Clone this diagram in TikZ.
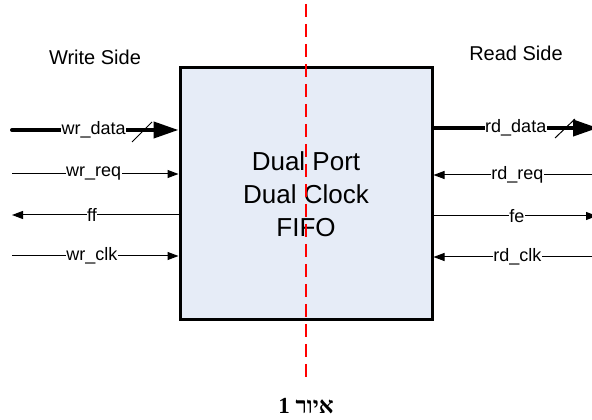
\documentclass[tikz,border=0pt]{standalone}
\usepackage{fontspec}
\setmainfont{Liberation Sans}
\newfontfamily\hebfont[Script=Hebrew]{Liberation Serif}
\TeXXeTstate=1
\usetikzlibrary{arrows.meta}
\definecolor{boxfill}{RGB}{230,236,247}
\tikzset{
  fifobox/.style={draw=black, line width=3pt, fill=boxfill, minimum width=252pt, minimum height=252pt, inner sep=0pt},
  sig/.style={line width=1pt, -{Triangle[length=11pt,width=8pt]}},
  sigback/.style={line width=1pt, {Triangle[length=11pt,width=8pt]}-},
  bus/.style={line width=4pt, line cap=round, -{Triangle[length=25pt,width=16pt]}},
  lab/.style={fill=white, inner sep=0.5pt, font=\fontsize{18}{21}\selectfont},
  side/.style={font=\fontsize{20}{24}\selectfont},
  slashln/.style={line width=1pt},
  divider/.style={draw=red, line width=1.4pt, dash pattern=on 13pt off 7pt}
}
\begin{document}
\begin{tikzpicture}[x=1pt,y=1pt]
\useasboundingbox (0,0) rectangle (592,420);
\node[fifobox] (fifo) at (306,226) {};
\node[align=center, font=\fontsize{26}{33}\selectfont] (title) at (306,226) {Dual Port\\Dual Clock\\FIFO};

\node[side] (ws) at (95,363) {Write Side};
\node[side] (rs) at (516,367) {Read Side};

% left side
\coordinate (wd0) at (12,290);
\coordinate (wq0) at (12,246);
\coordinate (ff0) at (12,205);
\coordinate (wc0) at (12,164);
\draw[bus] (wd0) -- node[lab, pos=0.49] (wdl) {wr\textunderscore data} (fifo.west |- wd0);
\coordinate (ws1) at (132,278);
\coordinate (ws2) at (152,298);
\draw[slashln] (ws1) -- (ws2);
\draw[sig] (wq0) -- node[lab, pos=0.49] (wql) {wr\textunderscore req} (fifo.west |- wq0);
\draw[sigback] (ff0) -- node[lab, pos=0.48] (ffl) {ff} (fifo.west |- ff0);
\draw[sig] (wc0) -- node[lab, pos=0.48] (wcl) {wr\textunderscore clk} (fifo.west |- wc0);

% right side
\coordinate (rd0) at (598,292);
\coordinate (rq0) at (598,245);
\coordinate (fe0) at (597,204);
\coordinate (rc0) at (598,163);
\draw[bus, line cap=butt] (fifo.east |- rd0) -- node[lab, pos=0.5] (rdl) {rd\textunderscore data} (rd0);
\coordinate (rs1) at (555,282);
\coordinate (rs2) at (575,301);
\draw[slashln] (rs1) -- (rs2);
\draw[sigback] (fifo.east |- rq0) -- node[lab, pos=0.51] (rql) {rd\textunderscore req} (rq0);
\draw[sig] (fifo.east |- fe0) -- node[lab, pos=0.51] (fel) {fe} (fe0);
\draw[sigback] (fifo.east |- rc0) -- node[lab, pos=0.51] (rcl) {rd\textunderscore clk} (rc0);

% divider
\coordinate (dv1) at (306,416);
\coordinate (dv2) at (306,40);
\draw[divider] (dv1) -- (dv2);

\node[font=\fontsize{23}{26}\selectfont\hebfont\bfseries] (cap) at (306,14) {\beginR איור 1\endR};
\end{tikzpicture}
\end{document}
